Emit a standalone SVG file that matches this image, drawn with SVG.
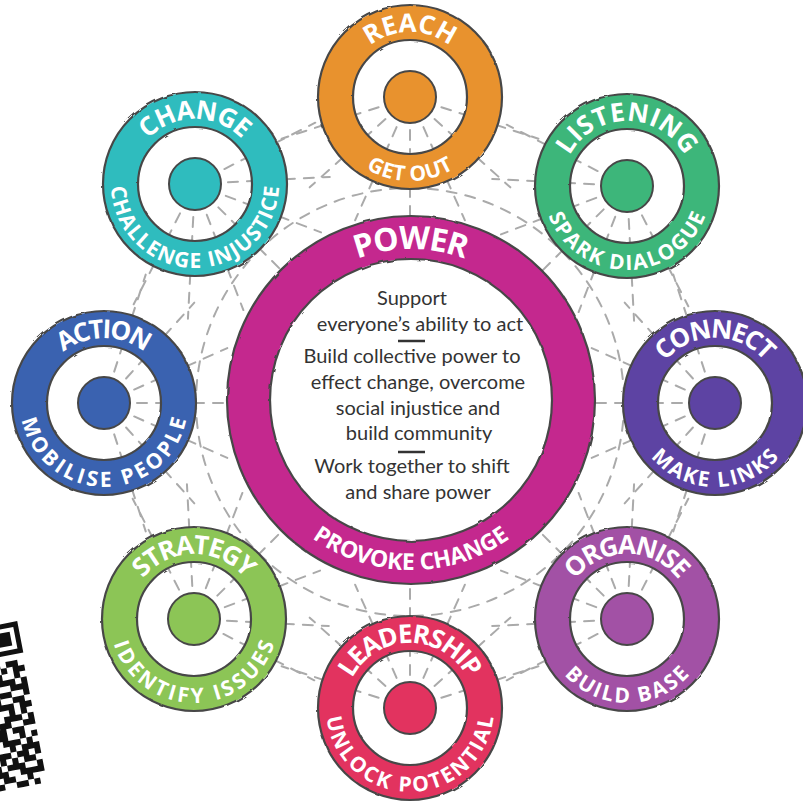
<svg xmlns="http://www.w3.org/2000/svg" xmlns:xlink="http://www.w3.org/1999/xlink" width="803" height="802" viewBox="0 0 803 802">
<style>
.ol{fill:none;stroke:#474747;stroke-width:2.2}
.dot{stroke:#474747;stroke-width:2}
.lt{font-family:"Open Sans","Liberation Sans",sans-serif;font-weight:700;font-size:26px;fill:#fff;text-anchor:middle}
.lb{font-family:"Open Sans","Liberation Sans",sans-serif;font-weight:700;font-size:21px;fill:#fff;text-anchor:middle}
.pt{font-family:"Open Sans","Liberation Sans",sans-serif;font-weight:700;font-size:32px;fill:#fff;text-anchor:middle}
.pb{font-family:"Open Sans","Liberation Sans",sans-serif;font-weight:700;font-size:23px;fill:#fff;text-anchor:middle}
.body{font-family:Lato,"Open Sans","Liberation Sans",sans-serif;font-size:20px;fill:#333;text-anchor:middle}
.sep{stroke:#333;stroke-width:2.5}
</style>
<defs>
<filter id="rough" x="-10%" y="-10%" width="120%" height="120%">
<feTurbulence type="fractalNoise" baseFrequency="0.08" numOctaves="2" seed="4"/>
<feDisplacementMap in="SourceGraphic" scale="2.5"/>
</filter>
<path id="ring" fill-rule="evenodd" d="M-92,0a92,92 0 1,0 184,0a92,92 0 1,0 -184,0ZM-57,0a57,57 0 1,0 114,0a57,57 0 1,0 -114,0Z"/>
<g id="ringEdge" class="ol" filter="url(#rough)"><circle r="92"/><circle r="57"/></g>
<path id="tA" d="M -56.29 32.5 A 65 65 0 1 1 56.29 32.5" fill="none"/>
<path id="bA" d="M -72.75 -42 A 84 84 0 1 0 72.75 -42" fill="none"/>
<path id="pT" d="M -130.77 75.5 A 151 151 0 1 1 130.77 75.5" fill="none"/>
<path id="pB" d="M -147.22 -85 A 170 170 0 1 0 147.22 -85" fill="none"/>
<g id="fan">
<line x1="33" y1="0" x2="135" y2="0" transform="rotate(-72)"/>
<line x1="33" y1="0" x2="135" y2="0" transform="rotate(-48)"/>
<line x1="33" y1="0" x2="135" y2="0" transform="rotate(-24)"/>
<line x1="33" y1="0" x2="135" y2="0"/>
<line x1="33" y1="0" x2="135" y2="0" transform="rotate(24)"/>
<line x1="33" y1="0" x2="135" y2="0" transform="rotate(48)"/>
<line x1="33" y1="0" x2="135" y2="0" transform="rotate(72)"/>
</g>
</defs>
<rect width="803" height="802" fill="#fff"/>

<g id="connectors" fill="none" stroke="#aaaaaa" stroke-width="2" stroke-dasharray="10 9" stroke-linecap="round">
<circle cx="410" cy="402" r="214"/>
<use href="#fan" transform="translate(410,97) rotate(90)"/>
<use href="#fan" transform="translate(627,186) rotate(135)"/>
<use href="#fan" transform="translate(715,403) rotate(180)"/>
<use href="#fan" transform="translate(627,619) rotate(225)"/>
<use href="#fan" transform="translate(410,708) rotate(270)"/>
<use href="#fan" transform="translate(194,619) rotate(315)"/>
<use href="#fan" transform="translate(104,403)"/>
<use href="#fan" transform="translate(195,184) rotate(45)"/>
</g>

<g id="reach" transform="translate(410,97)">
<use href="#ring" fill="#E8922E"/><use href="#ringEdge"/>
<circle r="26" fill="#E8922E" class="dot"/>
<text class="lt"><textPath href="#tA" startOffset="50%" textLength="86">REACH</textPath></text>
<text class="lb"><textPath href="#bA" startOffset="50%" textLength="92">GET OUT</textPath></text>
</g>

<g id="listening" transform="translate(627,186)">
<use href="#ring" fill="#3DB67A"/><use href="#ringEdge"/>
<circle r="26" fill="#3DB67A" class="dot"/>
<text class="lt"><textPath href="#tA" startOffset="50%" textLength="141">LISTENING</textPath></text>
<text class="lb"><textPath href="#bA" startOffset="50%" textLength="203">SPARK DIALOGUE</textPath></text>
</g>

<g id="connect" transform="translate(715,403)">
<use href="#ring" fill="#5D43A3"/><use href="#ringEdge"/>
<circle r="26" fill="#5D43A3" class="dot"/>
<text class="lt"><textPath href="#tA" startOffset="50%" textLength="114">CONNECT</textPath></text>
<text class="lb"><textPath href="#bA" startOffset="50%" textLength="146">MAKE LINKS</textPath></text>
</g>

<g id="organise" transform="translate(627,619)">
<use href="#ring" fill="#A251A5"/><use href="#ringEdge"/>
<circle r="26" fill="#A251A5" class="dot"/>
<text class="lt"><textPath href="#tA" startOffset="50%" textLength="120">ORGANISE</textPath></text>
<text class="lb"><textPath href="#bA" startOffset="50%" textLength="142">BUILD BASE</textPath></text>
</g>

<g id="leadership" transform="translate(410,708)">
<use href="#ring" fill="#E2335F"/><use href="#ringEdge"/>
<circle r="26" fill="#E2335F" class="dot"/>
<text class="lt"><textPath href="#tA" startOffset="50%" textLength="143">LEADERSHIP</textPath></text>
<text class="lb"><textPath href="#bA" startOffset="50%" textLength="245">UNLOCK POTENTIAL</textPath></text>
</g>

<g id="strategy" transform="translate(194,619)">
<use href="#ring" fill="#8CC556"/><use href="#ringEdge"/>
<circle r="26" fill="#8CC556" class="dot"/>
<text class="lt"><textPath href="#tA" startOffset="50%" textLength="117">STRATEGY</textPath></text>
<text class="lb"><textPath href="#bA" startOffset="50%" textLength="214">IDENTIFY ISSUES</textPath></text>
</g>

<g id="action" transform="translate(104,403)">
<use href="#ring" fill="#3A62B0"/><use href="#ringEdge"/>
<circle r="26" fill="#3A62B0" class="dot"/>
<text class="lt"><textPath href="#tA" startOffset="50%" textLength="88">ACTION</textPath></text>
<text class="lb"><textPath href="#bA" startOffset="50%" textLength="230">MOBILISE PEOPLE</textPath></text>
</g>

<g id="change" transform="translate(195,184)">
<use href="#ring" fill="#2FBCBE"/><use href="#ringEdge"/>
<circle r="26" fill="#2FBCBE" class="dot"/>
<text class="lt"><textPath href="#tA" startOffset="50%" textLength="105">CHANGE</textPath></text>
<text class="lb"><textPath href="#bA" startOffset="50%" textLength="258">CHALLENGE INJUSTICE</textPath></text>
</g>

<g id="power" transform="translate(411,400)">
<circle r="184" fill="#C4288E"/>
<circle r="141" fill="#fff"/>
<g class="ol" filter="url(#rough)"><circle r="184"/><circle r="141"/></g>
<text class="pt"><textPath href="#pT" startOffset="50%" textLength="110">POWER</textPath></text>
<text class="pb"><textPath href="#pB" startOffset="50%" textLength="211">PROVOKE CHANGE</textPath></text>
</g>

<g id="power-text">
<text class="body" x="412" y="305">Support</text>
<text class="body" x="420" y="331">everyone’s ability to act</text>
<line class="sep" x1="398" y1="341" x2="425" y2="341"/>
<text class="body" x="412" y="363">Build collective power to</text>
<text class="body" x="418" y="389">effect change, overcome</text>
<text class="body" x="418" y="415">social injustice and</text>
<text class="body" x="419" y="440">build community</text>
<line class="sep" x1="398" y1="452" x2="425" y2="452"/>
<text class="body" x="412" y="473">Work together to shift</text>
<text class="body" x="418" y="499">and share power</text>
</g>

<g id="qr-code" transform="translate(2,624) rotate(-11)">
<rect x="-40" y="-6" width="62" height="176" fill="#fff"/>
<rect x="-14" y="2.5" width="27" height="27" fill="none" stroke="#111" stroke-width="5"/>
<rect x="-8" y="9" width="14" height="14" fill="#111"/>
<path fill="#111" d="M-34 38h6v6h-6zM-22 38h6v6h-6zM-16 38h6v6h-6zM-4 38h6v6h-6zM2 38h6v6h-6z
M-28 44h6v6h-6zM-22 44h6v6h-6zM-10 44h6v6h-6zM2 44h6v6h-6zM8 44h6v6h-6z
M-34 50h6v6h-6zM-28 50h6v6h-6zM-16 50h6v6h-6zM2 50h6v6h-6z
M-22 56h6v6h-6zM-16 56h6v6h-6zM-10 56h6v6h-6zM-4 56h6v6h-6zM8 56h6v6h-6z
M-34 62h6v6h-6zM-22 62h6v6h-6zM-4 62h6v6h-6zM2 62h6v6h-6zM8 62h6v6h-6z
M-34 68h6v6h-6zM-28 68h6v6h-6zM-16 68h6v6h-6zM-10 68h6v6h-6zM8 68h6v6h-6z
M-28 74h6v6h-6zM-22 74h6v6h-6zM-4 74h6v6h-6zM2 74h6v6h-6z
M-34 80h6v6h-6zM-22 80h6v6h-6zM-16 80h6v6h-6zM-10 80h6v6h-6zM2 80h6v6h-6zM8 80h6v6h-6z
M-34 86h6v6h-6zM-28 86h6v6h-6zM-10 86h6v6h-6zM2 86h6v6h-6z
M-28 92h6v6h-6zM-16 92h6v6h-6zM-10 92h6v6h-6zM-4 92h6v6h-6zM8 92h6v6h-6z
M-34 98h6v6h-6zM-22 98h6v6h-6zM-16 98h6v6h-6zM2 98h6v6h-6zM8 98h6v6h-6z
M-28 104h6v6h-6zM-22 104h6v6h-6zM-10 104h6v6h-6zM-4 104h6v6h-6z
M-34 110h6v6h-6zM-28 110h6v6h-6zM-22 110h6v6h-6zM-4 110h6v6h-6zM8 110h6v6h-6z
M-22 116h6v6h-6zM-16 116h6v6h-6zM-10 116h6v6h-6zM2 116h6v6h-6z
M-34 122h6v6h-6zM-16 122h6v6h-6zM-4 122h6v6h-6zM2 122h6v6h-6zM8 122h6v6h-6z
M-34 128h6v6h-6zM-28 128h6v6h-6zM-22 128h6v6h-6zM-10 128h6v6h-6zM-4 128h6v6h-6zM8 128h6v6h-6z
M-28 134h6v6h-6zM-16 134h6v6h-6zM-4 134h6v6h-6zM2 134h6v6h-6z
M-34 140h6v6h-6zM-22 140h6v6h-6zM-16 140h6v6h-6zM-10 140h6v6h-6zM8 140h6v6h-6z
M-34 146h6v6h-6zM-28 146h6v6h-6zM-10 146h6v6h-6zM-4 146h6v6h-6zM2 146h6v6h-6zM8 146h6v6h-6z
M-28 152h6v6h-6zM-22 152h6v6h-6zM-4 152h6v6h-6z
M-34 158h6v6h-6zM-16 158h6v6h-6zM-10 158h6v6h-6zM2 158h6v6h-6z"/>
</g>
</svg>
